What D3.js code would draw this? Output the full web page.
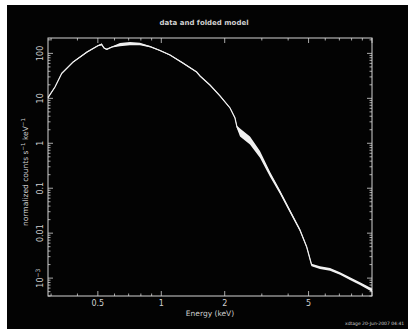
<!DOCTYPE html>
<html>
<head>
<meta charset="utf-8">
<script src="https://cdn.jsdelivr.net/npm/d3@7/dist/d3.min.js"></script>
<style>
  body { margin: 0; background: #fff; }
  text { font-family: "DejaVu Sans", sans-serif; fill: #d0d0d0; }
</style>
</head>
<body>
<svg id="chart" width="408" height="331"></svg>
<script>
// spectrum (keV, counts s^-1 keV^-1)
const energy = [0.29, 0.313, 0.337, 0.381, 0.444, 0.50, 0.521, 0.535, 0.551, 0.583, 0.637, 0.71, 0.792, 0.884, 0.986,
  1.10, 1.267, 1.472, 1.527, 1.702, 1.899, 2.12, 2.238, 2.287, 2.364, 2.636, 2.94, 3.28, 3.66, 4.08, 4.55, 4.90,
  5.17, 5.66, 6.32, 7.05, 7.86, 8.77, 10.0];
const counts = [10.4, 17.9, 36, 64, 107, 148, 159, 132, 123, 139, 157, 166, 162, 142, 116,
  92, 61, 38.5, 31.4, 19.8, 11.3, 6.1, 3.65, 2.3, 1.78, 1.18, 0.577, 0.207, 0.0824, 0.0311, 0.0118, 0.00492,
  0.00196, 0.00172, 0.00156, 0.00127, 0.00098, 0.00076, 0.000544];
// relative error half-width (band thickness)
const errFrac = [0.03, 0.03, 0.03, 0.03, 0.03, 0.03, 0.04, 0.03, 0.03, 0.03, 0.08, 0.08, 0.06, 0.03, 0.03,
  0.03, 0.03, 0.03, 0.03, 0.03, 0.03, 0.03, 0.04, 0.07, 0.2, 0.2, 0.17, 0.13, 0.1, 0.08, 0.06, 0.05,
  0.06, 0.07, 0.07, 0.07, 0.07, 0.07, 0.08];

const xTicks = [0.5, 1, 2, 5];
const xTickLabels = ["0.5", "1", "2", "5"];
const yTicks = [100, 10, 1, 0.1, 0.01, 0.001];
const yTickLabels = ["100", "10", "1", "0.1", "0.01", "10"];

const svg = d3.select("#chart");
const pLeft = 48, pRight = 372, pTop = 38, pBottom = 296;
const fg = "#d4d4d4";

// black plotting page inside white margin
svg.append("rect").attr("x", 7).attr("y", 5).attr("width", 401).attr("height", 324).attr("fill", "#030303");

const x = d3.scaleLog().domain([0.29, 10]).range([pLeft, pRight]);
const y = d3.scaleLog().domain([4e-4, 220]).range([pBottom, pTop]);

// ticks inside the frame on all four sides
const xAll = [];
for (let d = 0.1; d <= 10; d *= 10) for (let m = 1; m <= 9; m++) xAll.push(+(m * d).toPrecision(3));
const xIn = xAll.filter(v => v >= 0.29 && v <= 10);
const yAll = [];
for (let d = 1e-4; d <= 100; d *= 10) for (let m = 1; m <= 9; m++) yAll.push(+(m * d).toPrecision(3));
const yIn = yAll.filter(v => v >= 4e-4 && v <= 220);

const isMajorX = v => xTicks.includes(v) || v === 10;
const isMajorY = v => yTicks.includes(v);

const ticks = svg.append("g").attr("stroke", fg).attr("stroke-width", 0.8);
xIn.forEach(v => {
  const len = isMajorX(v) ? 5 : 2.5;
  ticks.append("line").attr("x1", x(v)).attr("x2", x(v)).attr("y1", pBottom).attr("y2", pBottom - len);
  ticks.append("line").attr("x1", x(v)).attr("x2", x(v)).attr("y1", pTop).attr("y2", pTop + len);
});
yIn.forEach(v => {
  const len = isMajorY(v) ? 5 : 2.5;
  ticks.append("line").attr("y1", y(v)).attr("y2", y(v)).attr("x1", pLeft).attr("x2", pLeft + len);
  ticks.append("line").attr("y1", y(v)).attr("y2", y(v)).attr("x1", pRight).attr("x2", pRight - len);
});

svg.append("rect")
  .attr("x", pLeft).attr("y", pTop).attr("width", pRight - pLeft).attr("height", pBottom - pTop)
  .attr("fill", "none").attr("stroke", fg).attr("stroke-width", 1);

// tick labels
svg.append("g").selectAll("text")
  .data(xTicks)
  .enter().append("text")
  .attr("x", d => x(d)).attr("y", pBottom + 10)
  .attr("text-anchor", "middle").attr("font-size", 8)
  .text((d, i) => xTickLabels[i]);

const yl = svg.append("g").selectAll("text")
  .data(yTicks)
  .enter().append("text")
  .attr("transform", d => "translate(43," + y(d) + ") rotate(-90)")
  .attr("text-anchor", "middle").attr("font-size", 8);
yl.append("tspan").text((d, i) => yTickLabels[i]);
yl.filter(d => d === 0.001).append("tspan")
  .attr("font-size", 6).attr("dy", -3).text("−3");

// axis titles
svg.append("text")
  .attr("x", (pLeft + pRight) / 2).attr("y", 316)
  .attr("text-anchor", "middle").attr("font-size", 7.5)
  .text("Energy  (keV)");

const ylab = svg.append("text")
  .attr("transform", "translate(28," + ((pTop + pBottom) / 2 + 5) + ") rotate(-90)")
  .attr("text-anchor", "middle").attr("font-size", 7.5);
ylab.append("tspan").text("normalized counts s");
ylab.append("tspan").attr("font-size", 5.5).attr("dy", -3).text("−1");
ylab.append("tspan").attr("dy", 3).text(" keV");
ylab.append("tspan").attr("font-size", 5.5).attr("dy", -3).text("−1");

svg.append("text")
  .attr("x", 204).attr("y", 25)
  .attr("text-anchor", "middle").attr("font-size", 7).attr("font-weight", "bold")
  .text("data and folded model");

svg.append("text")
  .attr("x", 345).attr("y", 325)
  .attr("font-size", 4.5)
  .text("xdtage 20-Jun-2007 04:41");

// data band and model line
const pts = energy.map((e, i) => ({ e, c: counts[i], f: errFrac[i] }));

svg.append("path")
  .datum(pts)
  .attr("fill", "#f0f0f0")
  .attr("d", d3.area()
    .x(d => x(d.e))
    .y0(d => y(d.c * (1 - d.f)))
    .y1(d => y(d.c * (1 + d.f))));

svg.append("path")
  .datum(pts)
  .attr("fill", "none")
  .attr("stroke", "#f0f0f0")
  .attr("stroke-width", 1.2)
  .attr("d", d3.line().x(d => x(d.e)).y(d => y(d.c)));
</script>
</body>
</html>
